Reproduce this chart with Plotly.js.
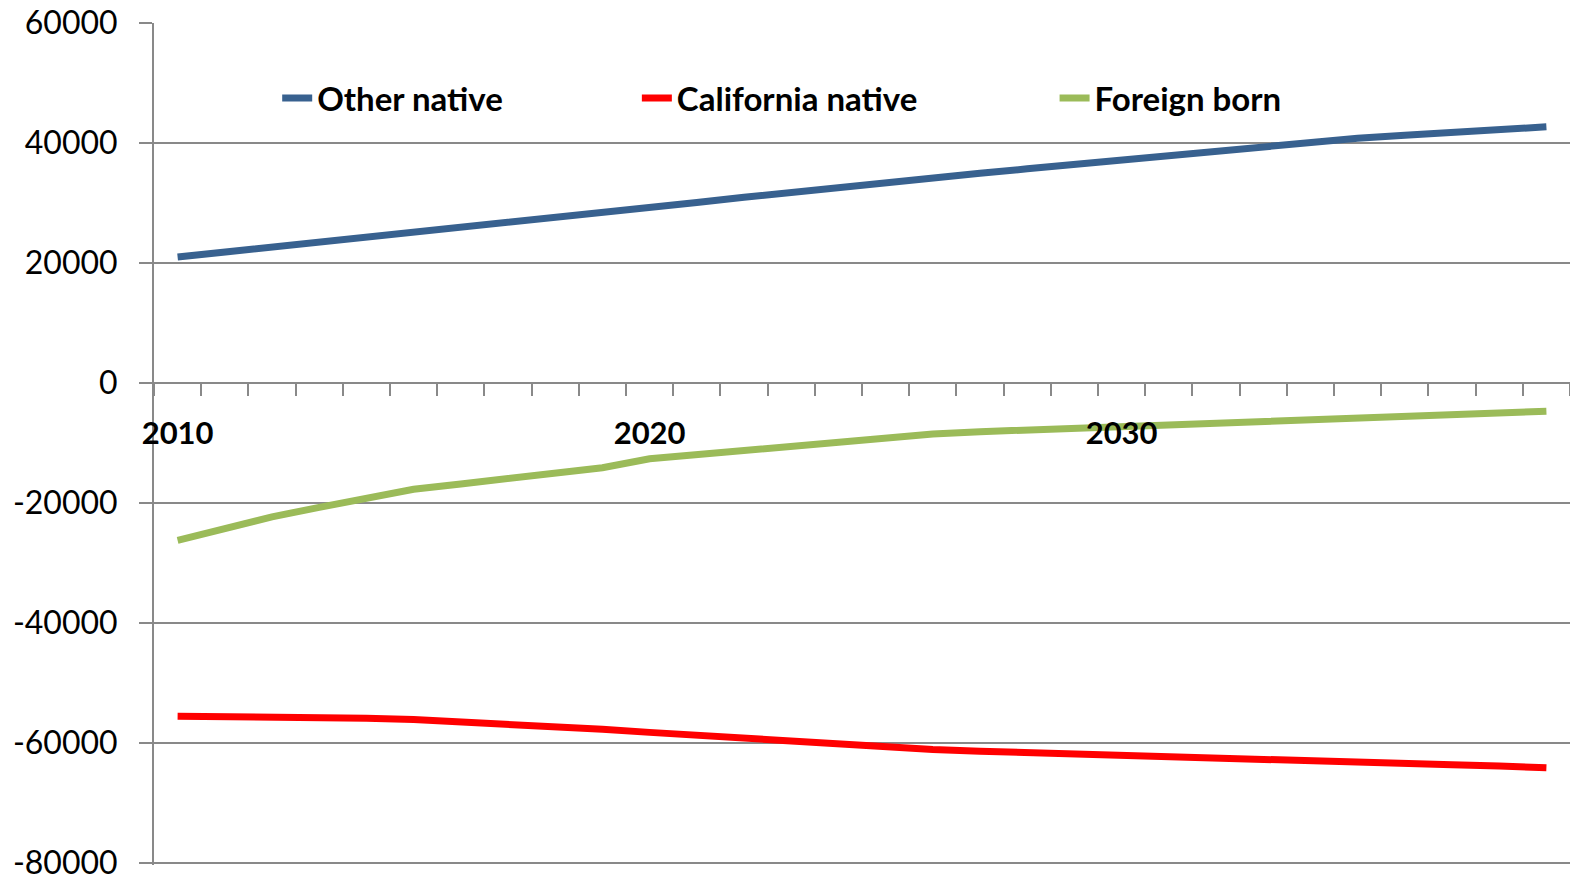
<!DOCTYPE html>
<html>
<head>
<meta charset="utf-8">
<script src="https://cdn.plot.ly/plotly-3.0.1.min.js"></script>
<style>
  html, body { margin: 0; padding: 0; background: #ffffff; }
  #chart { width: 1570px; height: 881px; }
</style>
</head>
<body>
<div id="chart"></div>
<script>
const years = [2010,2011,2012,2013,2014,2015,2016,2017,2018,2019,
               2020,2021,2022,2023,2024,2025,2026,2027,2028,2029,
               2030,2031,2032,2033,2034,2035,2036,2037,2038,2039];

const otherNative = [21000,21800,22600,23400,24200,25000,25850,26700,27550,28400,
                     29250,30100,30950,31800,32650,33450,34200,34950,35700,36450,
                     37200,38000,38800,39500,40200,40800,41300,41800,42250,42700];

const californiaNative = [-55500,-55550,-55600,-55700,-55850,-56050,-56400,-56800,-57250,-57700,
                          -58200,-58700,-59200,-59700,-60200,-60650,-61050,-61350,-61600,-61800,
                          -62000,-62250,-62450,-62700,-62900,-63150,-63350,-63600,-63800,-64100];

const foreignBorn = [-26200,-24200,-22300,-20700,-19200,-17700,-16800,-15900,-15000,-14100,
                     -12600,-11900,-11200,-10500,-9800,-9000,-8500,-8100,-7800,-7600,
                     -7400,-7100,-6800,-6500,-6200,-5900,-5600,-5300,-5000,-4700];

const seriesNames = ['Other native', 'California native', 'Foreign born'];
const labelYears = [2010, 2020, 2030];
const yTicks = [60000, 40000, 20000, 0, -20000, -40000, -60000, -80000];

const FONT = 'Lato, "Open Sans", "DejaVu Sans", sans-serif';
const GRID = '#898989';

const traces = [
  {x: years, y: otherNative, name: seriesNames[0], type: 'scatter', mode: 'lines',
   line: {color: '#38618f', width: 7}, legend: 'legend'},
  {x: years, y: californiaNative, name: seriesNames[1], type: 'scatter', mode: 'lines',
   line: {color: '#ff0000', width: 7}, legend: 'legend2'},
  {x: years, y: foreignBorn, name: seriesNames[2], type: 'scatter', mode: 'lines',
   line: {color: '#9bbb59', width: 7}, legend: 'legend3'}
];

const legendCommon = {
  orientation: 'h', yanchor: 'middle', xanchor: 'left', y: 0.9110,
  bgcolor: 'rgba(0,0,0,0)', font: {family: FONT, size: 33, color: '#000', weight: 'bold'},
  itemwidth: 30
};

const yMin = -80300;
const layout = {
  width: 1570, height: 881,
  margin: {l: 154, r: 0, t: 23, b: 16},
  paper_bgcolor: '#ffffff', plot_bgcolor: '#ffffff',
  showlegend: true,
  font: {family: FONT, color: '#000'},
  legend: Object.assign({}, legendCommon, {x: 0.0870}),
  legend2: Object.assign({}, legendCommon, {x: 0.3410}),
  legend3: Object.assign({}, legendCommon, {x: 0.6360}),
  xaxis: {
    type: 'linear',
    range: [2009.5, 2039.5],
    anchor: 'free', position: (0 - yMin) / (60000 - yMin),
    showline: true, linecolor: GRID, linewidth: 2,
    showgrid: false, zeroline: false,
    tickmode: 'array', tickvals: labelYears, ticktext: labelYears.map(String),
    ticks: '',
    ticklabelstandoff: 23,
    tickfont: {family: FONT, size: 31, color: '#000', weight: 'bold'},
    minor: {tickmode: 'linear', tick0: 2009.5, dtick: 1, ticks: 'outside', ticklen: 12,
            tickwidth: 2, tickcolor: GRID, showgrid: false}
  },
  yaxis: {
    range: [yMin, 60000],
    tickmode: 'array', tickvals: yTicks, ticktext: yTicks.map(String),
    showline: true, linecolor: GRID, linewidth: 2,
    showgrid: true, gridcolor: GRID, gridwidth: 2,
    zeroline: false,
    ticks: 'outside', ticklen: 13, tickwidth: 2, tickcolor: GRID,
    ticklabelstandoff: 15,
    ticklabeloverflow: 'allow',
    tickfont: {family: FONT, size: 32, color: '#000'}
  }
};

Plotly.newPlot('chart', traces, layout, {displayModeBar: false, staticPlot: true});
</script>
</body>
</html>
